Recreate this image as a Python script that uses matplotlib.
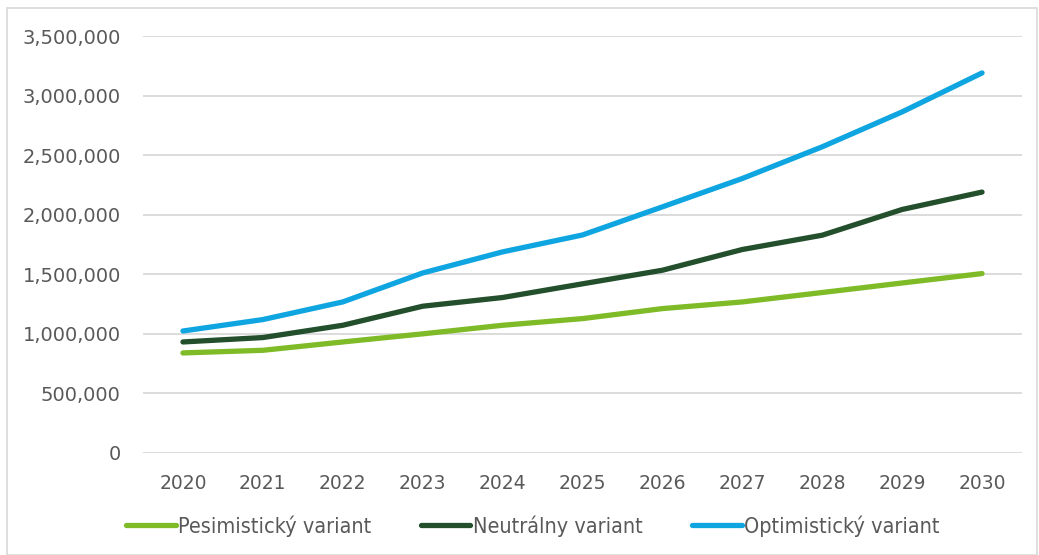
import matplotlib
matplotlib.use('Agg')
from matplotlib import pyplot as plt
from matplotlib import ticker as mticker
from matplotlib.patches import Rectangle

# hodnoty odčítané z grafu
roky = [2020, 2021, 2022, 2023, 2024, 2025, 2026, 2027, 2028, 2029, 2030]
pesimisticky = [840000, 862000, 932000, 1000000, 1072000, 1128000, 1212000, 1268000, 1347000, 1427000, 1506000]
neutralny = [932000, 969000, 1072000, 1232000, 1305000, 1420000, 1534000, 1708000, 1828000, 2044000, 2190000]
optimisticky = [1024000, 1120000, 1268000, 1511000, 1688000, 1830000, 2066000, 2304000, 2570000, 2863000, 3190000]

nazvy = ['Pesimistický variant', 'Neutrálny variant', 'Optimistický variant']
farby = ['#7fba27', '#234f2c', '#0ea5e0']
sivy = '#595959'

fig = plt.figure(figsize=(10.39, 5.55), dpi=100)
ax = fig.add_axes([143 / 1039, 1 - 453 / 555, (1022 - 143) / 1039, (453 - 36) / 555])

for hodnoty, nazov, farba in zip([pesimisticky, neutralny, optimisticky], nazvy, farby):
    ax.plot(roky, hodnoty, color=farba, linewidth=3.8, solid_capstyle='round', label=nazov)

ax.set_ylim(0, 3500000)
ax.set_xlim(2019.5, 2030.5)
ax.set_yticks(range(0, 3500001, 500000))
ax.set_xticks(roky)
ax.yaxis.set_major_formatter(mticker.FuncFormatter(lambda v, p: f'{int(v):,}'))
ax.grid(axis='y', color='#d9d9d9', linewidth=1.3)
ax.set_axisbelow(True)
for s in ax.spines.values():
    s.set_visible(False)
ax.tick_params(length=0, labelcolor=sivy)
ax.tick_params(axis='y', pad=16, labelsize=14)
ax.tick_params(axis='x', pad=15, labelsize=13.5)

leg = fig.legend(loc='center', bbox_to_anchor=(0.513, 1 - 526 / 555), ncol=3, frameon=False,
                 handlelength=2.3, columnspacing=2.3, handletextpad=0.12,
                 prop={'size': 15.5, 'stretch': 'condensed'})
for t in leg.get_texts():
    t.set_color(sivy)

fig.patches.append(Rectangle((7 / 1039, 0), 1030 / 1039, 1 - 8 / 555, transform=fig.transFigure,
                             fill=False, edgecolor='#d9d9d9', linewidth=1.2))

fig.savefig('out.png', dpi=100)
